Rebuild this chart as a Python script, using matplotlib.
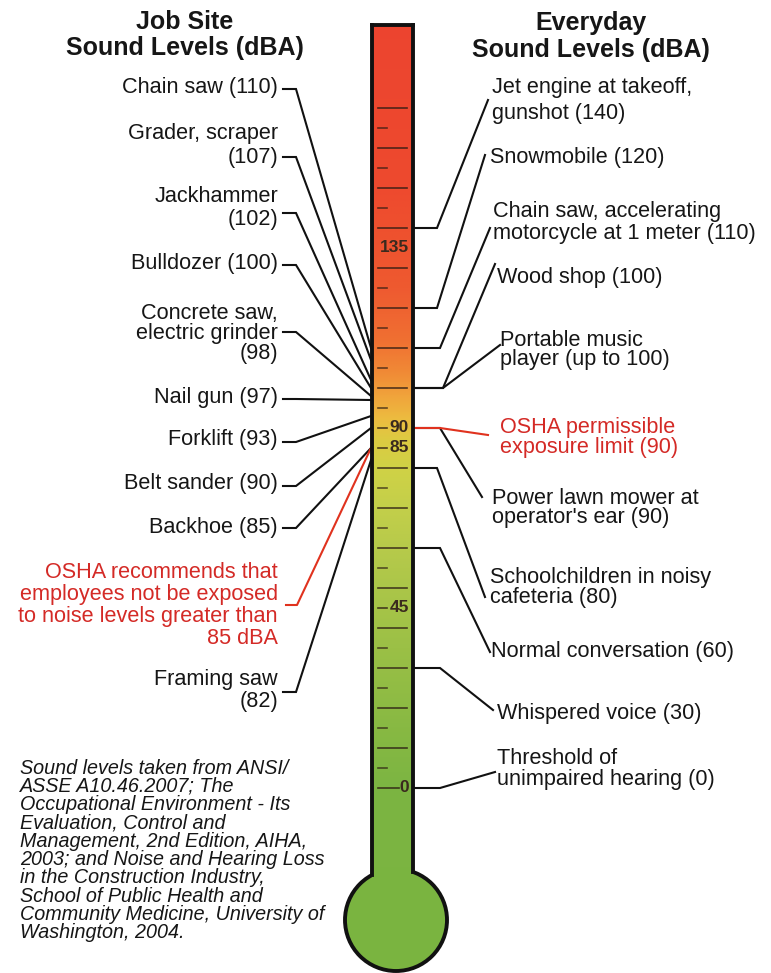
import numpy as np
import matplotlib
matplotlib.use("Agg")
import matplotlib.pyplot as plt
from matplotlib.patches import Ellipse

# ---------------- data ----------------
left_labels = ["Chain saw (110)", "Grader, scraper\n(107)", "Jackhammer\n(102)",
               "Bulldozer (100)", "Concrete saw,\nelectric grinder\n(98)",
               "Nail gun (97)", "Forklift (93)", "Belt sander (90)", "Backhoe (85)",
               "Framing saw\n(82)"]
left_values = [110, 107, 102, 100, 98, 97, 93, 90, 85, 82]

osha_rec_label = "OSHA recommends that\nemployees not be exposed\nto noise levels greater than\n85 dBA"
osha_rec_value = 85

right_labels = ["Jet engine at takeoff,\ngunshot (140)", "Snowmobile (120)",
                "Chain saw, accelerating\nmotorcycle at 1 meter (110)", "Wood shop (100)",
                "Portable music\nplayer (up to 100)", "Power lawn mower at\noperator's ear (90)",
                "Schoolchildren in noisy\ncafeteria (80)", "Normal conversation (60)",
                "Whispered voice (30)", "Threshold of\nunimpaired hearing (0)"]
right_values = [140, 120, 110, 100, 100, 90, 80, 60, 30, 0]

osha_pel_label = "OSHA permissible\nexposure limit (90)"
osha_pel_value = 90

scale_labels = [135, 90, 85, 45, 0]
major_ticks = list(range(0, 171, 10))
minor_ticks = list(range(5, 171, 10))

footnote = ["Sound levels taken from ANSI/", "ASSE A10.46.2007; The",
            "Occupational Environment - Its", "Evaluation, Control and",
            "Management, 2nd Edition, AIHA,", "2003; and Noise and Hearing Loss",
            "in the Construction Industry,", "School of Public Health and",
            "Community Medicine, University of", "Washington, 2004."]

# ---------------- layout helpers ----------------
def Y(py):            # page pixel row -> dB axis coordinate (layout only)
    return (788 - py) / 4.0

plt.rcParams['font.family'] = ['Liberation Sans', 'DejaVu Sans']
fig = plt.figure(figsize=(7.71, 9.73), dpi=100)
ax = fig.add_axes([0, 0, 1, 1])
ax.set_xlim(0, 771)
ax.set_ylim(Y(973), Y(0))
ax.axis('off')

TXT = '#161616'
RED = '#d42a26'
REDLINE = '#e0321e'
FS = 15.6
LW = 1.5

# ---------------- thermometer ----------------
TL, TR = 372, 413
top_db = Y(25)
bulb_c = (396, Y(920))
bulb_r = 51
green = '#7ab440'

bulb = Ellipse(bulb_c, 2 * bulb_r, 2 * bulb_r / 4.0, facecolor=green,
               edgecolor='#111111', lw=2.8, zorder=2)
ax.add_patch(bulb)

anc_db = [-40, 0, 15, 35, 55, 70, 80, 87, 92, 97, 104, 112, 125, 150, 195]
anc_col = ['#7ab440', '#7cb542', '#88b943', '#9bc046', '#b1c84a', '#c3cf4a', '#d0d246',
           '#dccb42', '#ecbd40', '#f0a83c', '#f08a36', '#f07032', '#ee5a30', '#ee4a2e', '#ec4430']
rgb = np.array([matplotlib.colors.to_rgb(c) for c in anc_col])
grid = np.linspace(Y(884), top_db, 400)
img = np.stack([np.interp(grid, anc_db, rgb[:, k]) for k in range(3)], axis=-1)[:, None, :]
ax.imshow(img, extent=[TL, TR, Y(884), top_db], origin='lower', aspect='auto',
          interpolation='bilinear', zorder=3)

# tube outline
def side_bottom(x):
    dx = x - bulb_c[0]
    return bulb_c[1] + np.sqrt(bulb_r ** 2 - dx ** 2) / 4.0
for xs in (TL, TR):
    ax.plot([xs, xs], [side_bottom(xs), top_db], color='#111111', lw=2.8, zorder=4,
            solid_capstyle='projecting')
ax.plot([TL, TR], [top_db, top_db], color='#111111', lw=2.8, zorder=4,
        solid_capstyle='projecting')

# ticks
TICKC = '#2a1a12'
for v in major_ticks:
    if v in scale_labels:
        continue
    ax.plot([378, 407], [v, v], color=TICKC, lw=1.2, alpha=0.8, zorder=5)
for v in minor_ticks:
    if v in scale_labels:
        continue
    ax.plot([378, 387], [v, v], color=TICKC, lw=1.2, alpha=0.7, zorder=5)
for v in scale_labels:
    xe = 399 if v < 10 else (387 if v < 100 else 378)
    if v != 135:
        ax.plot([378, xe], [v, v], color=TICKC, lw=1.2, alpha=0.8, zorder=5)
    ax.text(409, v, str(v), ha='right', va='center', fontsize=12.5, fontweight='bold',
            color='#3a2a1e', zorder=6)

# ---------------- titles ----------------
ax.text(185, Y(22), "Job Site", ha='center', va='center', fontsize=18, fontweight='bold', color=TXT)
ax.text(185, Y(48), "Sound Levels (dBA)", ha='center', va='center', fontsize=18, fontweight='bold', color=TXT)
ax.text(591, Y(23), "Everyday", ha='center', va='center', fontsize=18, fontweight='bold', color=TXT)
ax.text(591, Y(50), "Sound Levels (dBA)", ha='center', va='center', fontsize=18, fontweight='bold', color=TXT)

def put_lines(text, x, y0, dy, ha, color):
    for i, ln in enumerate(text.split('\n')):
        ax.text(x, Y(y0 + i * dy), ln, ha=ha, va='center', fontsize=FS, color=color)

# ---------------- left side ----------------
left_text_y = [88, 133, 197, 263, 313, 397, 440, 483, 527, 680]
left_line_dy = [0, 24, 22, 0, 20, 0, 0, 0, 0, 21]
left_knee_y = [89, 157, 213, 265, 332, 399, 442, 486, 528, 692]
for lab, v, ty, dy, ky in zip(left_labels, left_values, left_text_y, left_line_dy, left_knee_y):
    put_lines(lab, 278, ty, dy, 'right', TXT)
    ax.plot([283, 296, TL - 1], [Y(ky), Y(ky), v], color='#111111', lw=LW, zorder=1,
            solid_joinstyle='miter')
put_lines(osha_rec_label, 278, 572, 22.3, 'right', RED)
ax.plot([286, 297, TL - 1], [Y(605), Y(605), osha_rec_value], color=REDLINE, lw=LW, zorder=1.5)

# ---------------- right side ----------------
right_text_x = [492, 490, 493, 497, 500, 492, 490, 491, 497, 497]
right_text_y = [88, 158, 212, 277, 340, 498, 578, 652, 713, 758]
right_line_dy = [26, 0, 21, 0, 20, 20, 20, 0, 0, 22]
right_knee_x = [437, 437, 440, 443, 443, 440, 437, 440, 440, 440]
right_end = [(488, 100), (485, 155), (490, 228), (495, 264), (500, 345),
             (482, 497), (485, 597), (490, 652), (493, 710), (495, 772)]
for lab, v, tx, ty, dy, kx, (ex, ey) in zip(right_labels, right_values, right_text_x,
                                            right_text_y, right_line_dy, right_knee_x, right_end):
    put_lines(lab, tx, ty, dy, 'left', TXT)
    ax.plot([TR + 1, kx, ex], [v, v, Y(ey)], color='#111111', lw=LW, zorder=1,
            solid_joinstyle='miter')
put_lines(osha_pel_label, 500, 428, 20, 'left', RED)
ax.plot([TR + 1, 440, 488], [osha_pel_value, osha_pel_value, Y(435)], color=REDLINE,
        lw=LW, zorder=1.5)

# ---------------- footnote ----------------
for i, ln in enumerate(footnote):
    ax.text(20, Y(768 + i * 18.3), ln, ha='left', va='center', fontsize=14.2,
            fontstyle='italic', color=TXT)

fig.savefig("out.png", dpi=100, facecolor='white')
